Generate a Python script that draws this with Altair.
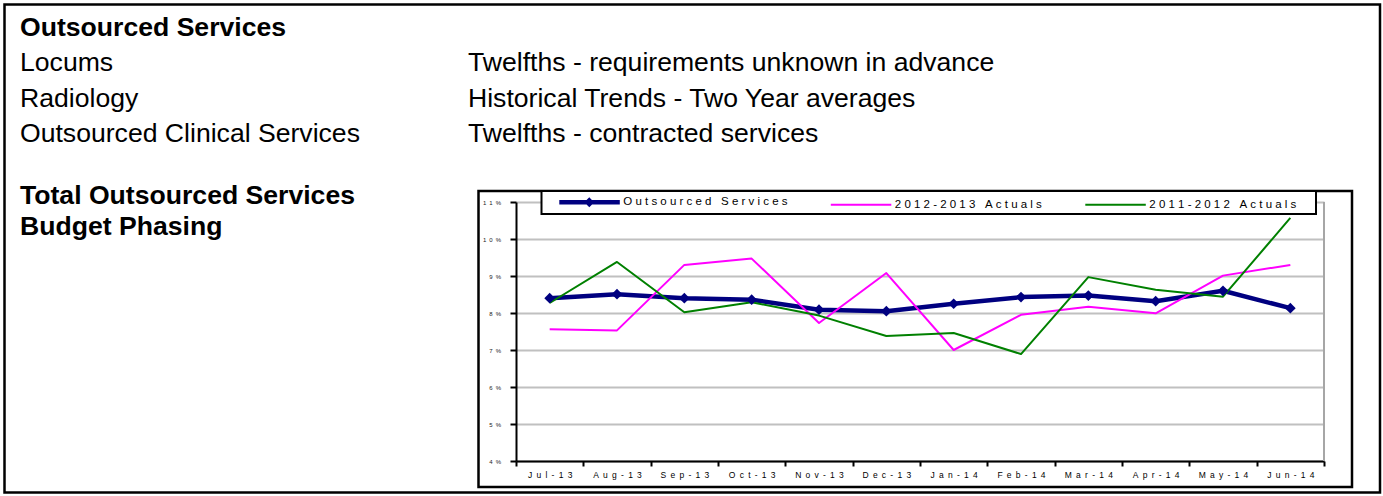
import altair as alt
import pandas as pd

FONT = "Liberation Sans, Arial, sans-serif"

# ---- text blocks -------------------------------------------------------
HEADER = ["Outsourced Services"]
LEFT_LINES = ["Locums", "Radiology", "Outsourced Clinical Services"]
RIGHT_LINES = [
    "Twelfths - requirements unknown in advance",
    "Historical Trends - Two Year averages",
    "Twelfths - contracted services",
]
SECTION = ["Total Outsourced Services", "Budget Phasing"]

# ---- chart data (monthly share of annual budget) ------------------------
MONTHS = ["Jul-13", "Aug-13", "Sep-13", "Oct-13", "Nov-13", "Dec-13",
          "Jan-14", "Feb-14", "Mar-14", "Apr-14", "May-14", "Jun-14"]
SERIES = ["Outsourced Services", "2012-2013 Actuals", "2011-2012 Actuals"]
OUTSOURCED = [0.0840, 0.0851, 0.0840, 0.0836, 0.0809, 0.0805,
              0.0825, 0.0843, 0.0847, 0.0832, 0.0860, 0.0813]
ACTUALS_1213 = [0.0756, 0.0753, 0.0930, 0.0947, 0.0773, 0.0908,
                0.0700, 0.0795, 0.0817, 0.0799, 0.0901, 0.0930]
ACTUALS_1112 = [0.0827, 0.0938, 0.0802, 0.0829, 0.0793, 0.0738,
                0.0746, 0.0689, 0.0897, 0.0863, 0.0844, 0.1057]
Y_TICKS = [0.04, 0.05, 0.06, 0.07, 0.08, 0.09, 0.10, 0.11]

COLORS = ["#000080", "#FF00FF", "#008000"]
WIDTHS = [4.5, 2, 2]

# legend swatches: a short line, with a diamond on the first one
LINE_PATH = "M-1.625,0L13.5,0"
DIAMOND_PATH = LINE_PATH + "M5.875,-0.45L6.325,0L5.875,0.45L5.425,0Z"
SHAPES = [DIAMOND_PATH, LINE_PATH, LINE_PATH]

rows = []
for name, vals in zip(SERIES, [OUTSOURCED, ACTUALS_1213, ACTUALS_1112]):
    for m, v in zip(MONTHS, vals):
        rows.append({"month": m, "series": name, "value": v})
df = pd.DataFrame(rows)

SPACED = "join(split(datum.label, ''), '\u2002')"
LEGEND_SPACED = "join(split(datum.label, ''), '\u00a0')"

legend = alt.Legend(
    orient="none", legendX=43.3, legendY=-6.5, direction="horizontal",
    columns=3, title=None, padding=0, columnPadding=38.5,
    symbolSize=64, symbolOffset=0, labelOffset=51,
    labelFont=FONT, labelFontSize=11.5, labelColor="black", labelLimit=1000,
    labelExpr=LEGEND_SPACED, symbolFillColor="transparent", symbolOpacity=1,
)

x_enc = alt.X(
    "month:N",
    scale=alt.Scale(type="band", domain=MONTHS, paddingInner=0, paddingOuter=0),
    bandPosition=0.5,
    axis=alt.Axis(
        title=None, tickBand="extent", labelAngle=0,
        labelFont=FONT, labelFontSize=8.5, labelColor="black", labelPadding=4.5,
        labelExpr=SPACED, labelOverlap=False, labelFlush=False,
        tickSize=5, tickWidth=2, tickColor="black",
        domainColor="black", domainWidth=2, grid=False,
    ),
)
y_enc = alt.Y(
    "value:Q",
    scale=alt.Scale(domain=[0.04, 0.11], nice=False, zero=False),
    axis=alt.Axis(
        title=None, values=Y_TICKS, format=".0%",
        labelFont=FONT, labelFontSize=6, labelColor="#222222", labelPadding=9.5,
        labelExpr=SPACED,
        tickSize=6, tickWidth=2, tickColor="black",
        domainColor="black", domainWidth=2,
        grid=True, gridColor="#c0c0c0", gridWidth=2,
    ),
)
color_enc = alt.Color("series:N", scale=alt.Scale(domain=SERIES, range=COLORS), legend=legend)
width_enc = alt.StrokeWidth(
    "series:N", scale=alt.Scale(type="ordinal", domain=SERIES, range=WIDTHS), legend=legend
)
shape_enc = alt.Shape("series:N", scale=alt.Scale(domain=SERIES, range=SHAPES), legend=legend)

one = alt.Data(values=[{}])

page_border = alt.Chart(one).mark_rect(
    fill="transparent", stroke="black", strokeWidth=2.5
).encode(x=alt.value(-511.5), x2=alt.value(864), y=alt.value(-197.5), y2=alt.value(290.5))

chart_frame = alt.Chart(one).mark_rect(
    fill="transparent", stroke="black", strokeWidth=2.5
).encode(x=alt.value(-37.5), x2=alt.value(836), y=alt.value(-11), y2=alt.value(285))

legend_box = alt.Chart(one).mark_rect(
    fill="white", stroke="black", strokeWidth=2
).encode(x=alt.value(25.5), x2=alt.value(800), y=alt.value(-11), y2=alt.value(12))

right_edge = alt.Chart(one).mark_rule(color="#a6a6a6", strokeWidth=2).encode(
    x=alt.value("width"), y=alt.value(0), y2=alt.value("height")
)

lines = alt.Chart(df).mark_line(strokeJoin="round", opacity=1).encode(
    x=x_enc, y=y_enc, color=color_enc, strokeWidth=width_enc
)

diamonds = alt.Chart(df).transform_filter(
    alt.datum.series == SERIES[0]
).mark_point(shape="diamond", filled=True, size=115, color=COLORS[0], opacity=1).encode(
    x=x_enc, y=y_enc
)

# carries the swatch shapes for the legend only
legend_shapes = alt.Chart(df).transform_filter("false").mark_point(
    filled=False, opacity=1
).encode(x=x_enc, y=y_enc, color=color_enc, shape=shape_enc)


def text_block(lines_, x, y, bold, line_height):
    return alt.Chart(one).mark_text(
        text=lines_, align="left", baseline="alphabetic", font=FONT,
        fontSize=26.6, fontWeight="bold" if bold else "normal",
        lineHeight=line_height, color="black",
    ).encode(x=alt.value(x), y=alt.value(y))


header = text_block(HEADER, -496, -166, True, 35.5)
left_col = text_block(LEFT_LINES, -496, -131, False, 35.5)
right_col = text_block(RIGHT_LINES, -48, -131, False, 35.5)
section = text_block(SECTION, -496, 2, True, 31)

chart = alt.layer(
    page_border, chart_frame, legend_box, lines, diamonds, legend_shapes,
    right_edge, header, left_col, right_col, section,
).properties(
    width=808,
    height=259,
    autosize=alt.AutoSizeParams(type="none"),
    padding={"left": 516, "top": 202, "right": 59, "bottom": 35},
    background="white",
).configure_view(strokeWidth=0)

chart.save("out.html", embed_options={"renderer": "svg", "actions": False})
